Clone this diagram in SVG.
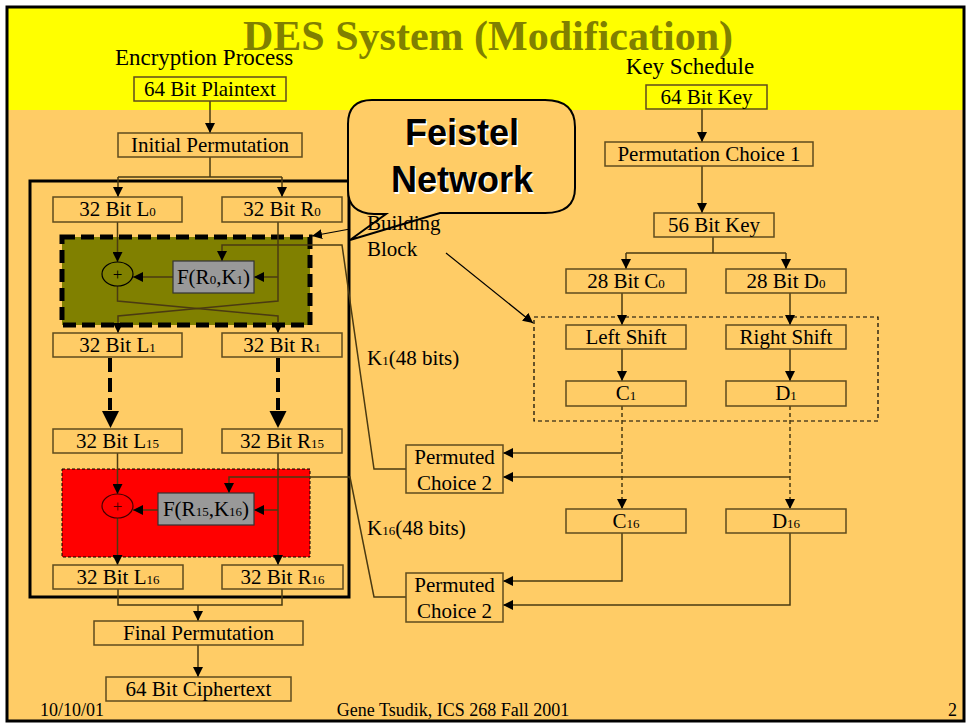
<svg xmlns="http://www.w3.org/2000/svg" width="968" height="725" viewBox="0 0 968 725">
<defs>
<marker id="ah" markerUnits="userSpaceOnUse" markerWidth="11" markerHeight="10" refX="10" refY="5" orient="auto"><path d="M0,0 L10,5 L0,10 z" fill="#000"/></marker>
<style>
.t{font-family:"Liberation Serif","Times New Roman",serif;font-size:21px;fill:#000;text-anchor:middle}
.s{font-size:13px}
.box{fill:#FFCC66;stroke:#5f4b1e;stroke-width:1.5}
.c{fill:none;stroke:#4a3a12;stroke-width:1.5}
.a{marker-end:url(#ah)}
.d{stroke-dasharray:4 3}
</style>
</defs>
<rect x="7" y="7" width="957" height="714" fill="#FFCC66"/>
<rect x="7" y="7" width="957" height="103" fill="#FFFF00"/>
<rect x="7" y="7" width="957" height="714" fill="none" stroke="#000" stroke-width="3"/>
<text x="488" y="50" style="font-family:'Liberation Serif','Times New Roman',serif;font-size:42px;font-weight:bold;fill:#808000;text-anchor:middle">DES System (Modification)</text>
<text x="204" y="65" class="t" style="font-size:23px">Encryption Process</text>
<text x="690" y="74" class="t" style="font-size:23px">Key Schedule</text>

<g id="feistel-frame"><rect x="30" y="181" width="319" height="416" fill="none" stroke="#000" stroke-width="3"/></g>
<g id="block1"><rect x="62" y="237" width="248" height="88" fill="#808000" stroke="#000" stroke-width="5" stroke-dasharray="13 6"/></g>
<g id="block16"><rect x="62" y="469" width="248" height="88" fill="#FF0000" stroke="#000" stroke-width="1" stroke-dasharray="3 2"/></g>
<g id="keybox"><rect x="534" y="317" width="344" height="104" fill="none" stroke="#000" stroke-width="1.2" stroke-dasharray="4 3"/></g>

<g id="callout">
<path d="M372,100 H545 Q575,100 575,127 V188 Q575,213 545,213 H440 L350,240 L386,214 H374 Q348,213 348,190 V124 Q348,100 372,100 Z" fill="#FFCC66" stroke="#000" stroke-width="2"/>
<text x="463.5" y="146.5" style="font-family:'Liberation Sans',Arial,sans-serif;font-size:36px;font-weight:bold;fill:#fff;text-anchor:middle">Feistel</text>
<text x="463.5" y="193.5" style="font-family:'Liberation Sans',Arial,sans-serif;font-size:36px;font-weight:bold;fill:#fff;text-anchor:middle">Network</text>
<text x="462" y="145" style="font-family:'Liberation Sans',Arial,sans-serif;font-size:36px;font-weight:bold;fill:#000;text-anchor:middle">Feistel</text>
<text x="462" y="192" style="font-family:'Liberation Sans',Arial,sans-serif;font-size:36px;font-weight:bold;fill:#000;text-anchor:middle">Network</text>
</g>
<g id="building-block-label"><text x="367" y="230" class="t" style="text-anchor:start">Building</text><text x="367" y="256" class="t" style="text-anchor:start">Block</text></g>
<g id="k1-label"><text x="367" y="365" class="t" style="text-anchor:start">K<tspan class="s">1</tspan>(48 bits)</text></g>
<g id="k16-label"><text x="367" y="535" class="t" style="text-anchor:start">K<tspan class="s">16</tspan>(48 bits)</text></g>

<g id="connectors">
<path class="c a" d="M210,101 V133"/>
<path class="c" d="M210,157 V177 M118,177 H282"/>
<path class="c a" d="M118,177 V197"/>
<path class="c a" d="M282,177 V197"/>
<path class="c a" d="M117.5,222 V262"/>
<path class="c a" d="M278,222 V301 L118,316 V333"/>
<path class="c a" d="M117.5,286 V301 L278,316 V333"/>
<path class="c a" d="M278,277 H254"/>
<path class="c a" d="M173,277 H133"/>
<path class="c a" d="M406,469 H374 L342,245 H222 V261"/>
<path d="M110,358 V410" stroke="#000" stroke-width="4" stroke-dasharray="14 6" fill="none"/>
<polygon points="102,411 119,411 110.5,428" fill="#000"/>
<path d="M278,358 V410" stroke="#000" stroke-width="4" stroke-dasharray="14 6" fill="none"/>
<polygon points="269.5,411 286.5,411 278,428" fill="#000"/>
<path class="c a" d="M117.5,453 V494"/>
<path class="c a" d="M117.5,518 V565"/>
<path class="c a" d="M278,453 V565"/>
<path class="c a" d="M278,510 H254"/>
<path class="c a" d="M158,510 H133"/>
<path class="c a" d="M406,597 H374 L350,477 H229 V493"/>
<path class="c" d="M118,589 V605 H282 V589"/>
<path class="c a" d="M198,605 V621"/>
<path class="c a" d="M198,645 V677"/>
<path class="c a" d="M350,229 L312,236" style="stroke:#000;stroke-width:1.2"/>
<path class="c a" d="M446,253 L533,323" style="stroke:#000;stroke-width:1.2"/>
<path class="c a" d="M702,109 V142"/>
<path class="c a" d="M702,166 V213"/>
<path class="c" d="M713,237 V253 M626,253 H786"/>
<path class="c a" d="M626,253 V269"/>
<path class="c a" d="M786,253 V269"/>
<path class="c a" d="M622,293 V325"/>
<path class="c a" d="M790,293 V325"/>
<path class="c a" d="M622,349 V381"/>
<path class="c a" d="M790,349 V381"/>
<path class="c a d" d="M622,406 V509"/>
<path class="c a d" d="M790,406 V509"/>
<path class="c a" d="M622,453 H503"/>
<path class="c a" d="M790,477 H503"/>
<path class="c a" d="M622,533 V581 H503"/>
<path class="c a" d="M790,533 V605 H503"/>
</g>

<g id="plaintext"><rect x="134" y="77" width="152" height="24" class="box" style="fill:#FFFF00"/><text x="210" y="96" class="t">64 Bit Plaintext</text></g>
<g id="initial-permutation"><rect x="118" y="133" width="184" height="24" class="box"/><text x="210" y="152" class="t">Initial Permutation</text></g>
<g id="L0"><rect x="53" y="197" width="129" height="25" class="box"/><text x="117.5" y="216" class="t">32 Bit L<tspan class="s">0</tspan></text></g>
<g id="R0"><rect x="222" y="197" width="120" height="25" class="box"/><text x="282" y="216" class="t">32 Bit R<tspan class="s">0</tspan></text></g>
<g id="xor1"><ellipse cx="117.5" cy="274" rx="15.5" ry="12" fill="none" stroke="#000" stroke-width="1.2"/><text x="117.5" y="280" class="t" style="font-size:17px">+</text></g>
<g id="F1"><rect x="173" y="261" width="81" height="32" fill="#999999" stroke="#333" stroke-width="1.2"/><text x="213.5" y="284" class="t">F(R<tspan class="s">0</tspan>,K<tspan class="s">1</tspan>)</text></g>
<g id="L1"><rect x="53" y="333" width="129" height="24" class="box"/><text x="117.5" y="352" class="t">32 Bit L<tspan class="s">1</tspan></text></g>
<g id="R1"><rect x="222" y="333" width="120" height="24" class="box"/><text x="282" y="352" class="t">32 Bit R<tspan class="s">1</tspan></text></g>
<g id="L15"><rect x="53" y="429" width="129" height="24" class="box"/><text x="117.5" y="448" class="t">32 Bit L<tspan class="s">15</tspan></text></g>
<g id="R15"><rect x="222" y="429" width="120" height="24" class="box"/><text x="282" y="448" class="t">32 Bit R<tspan class="s">15</tspan></text></g>
<g id="xor16"><ellipse cx="117.5" cy="506" rx="15.5" ry="12" fill="none" stroke="#400" stroke-width="1.2"/><text x="117.5" y="512" class="t" style="font-size:17px;fill:#400">+</text></g>
<g id="F16"><rect x="158" y="493" width="96" height="32" fill="#999999" stroke="#333" stroke-width="1.2"/><text x="206" y="516" class="t">F(R<tspan class="s">15</tspan>,K<tspan class="s">16</tspan>)</text></g>
<g id="L16"><rect x="53" y="565" width="130" height="24" class="box"/><text x="118" y="584" class="t">32 Bit L<tspan class="s">16</tspan></text></g>
<g id="R16"><rect x="222" y="565" width="121" height="24" class="box"/><text x="282.5" y="584" class="t">32 Bit R<tspan class="s">16</tspan></text></g>
<g id="final-permutation"><rect x="94" y="621" width="209" height="24" class="box"/><text x="198.5" y="640" class="t">Final Permutation</text></g>
<g id="ciphertext"><rect x="106" y="677" width="185" height="24" class="box"/><text x="198.5" y="696" class="t">64 Bit Ciphertext</text></g>

<g id="key64"><rect x="646" y="85" width="121" height="24" class="box" style="fill:#FFFF00"/><text x="706.5" y="104" class="t">64 Bit Key</text></g>
<g id="pc1"><rect x="605" y="142" width="208" height="24" class="box"/><text x="709" y="161" class="t">Permutation Choice 1</text></g>
<g id="key56"><rect x="654" y="213" width="120" height="24" class="box"/><text x="714" y="232" class="t">56 Bit Key</text></g>
<g id="C0"><rect x="566" y="269" width="120" height="24" class="box"/><text x="626" y="288" class="t">28 Bit C<tspan class="s">0</tspan></text></g>
<g id="D0"><rect x="726" y="269" width="120" height="24" class="box"/><text x="786" y="288" class="t">28 Bit D<tspan class="s">0</tspan></text></g>
<g id="left-shift"><rect x="566" y="325" width="120" height="24" class="box"/><text x="626" y="344" class="t">Left Shift</text></g>
<g id="right-shift"><rect x="726" y="325" width="120" height="24" class="box"/><text x="786" y="344" class="t">Right Shift</text></g>
<g id="C1"><rect x="566" y="381" width="120" height="25" class="box"/><text x="626" y="400" class="t">C<tspan class="s">1</tspan></text></g>
<g id="D1"><rect x="726" y="381" width="120" height="25" class="box"/><text x="786" y="400" class="t">D<tspan class="s">1</tspan></text></g>
<g id="C16"><rect x="566" y="509" width="120" height="24" class="box"/><text x="626" y="528" class="t">C<tspan class="s">16</tspan></text></g>
<g id="D16"><rect x="726" y="509" width="120" height="24" class="box"/><text x="786" y="528" class="t">D<tspan class="s">16</tspan></text></g>
<g id="pc2-1"><rect x="406" y="445" width="97" height="48" class="box"/><text x="454.5" y="464" class="t">Permuted</text><text x="454.5" y="490" class="t">Choice 2</text></g>
<g id="pc2-16"><rect x="406" y="573" width="97" height="49" class="box"/><text x="454.5" y="592" class="t">Permuted</text><text x="454.5" y="618" class="t">Choice 2</text></g>

<g id="footer">
<text x="40" y="716" class="t" style="font-size:18px;text-anchor:start">10/10/01</text>
<text x="453" y="716" class="t" style="font-size:18px">Gene Tsudik, ICS 268 Fall 2001</text>
<text x="957" y="716" class="t" style="font-size:18px;text-anchor:end">2</text>
</g>
</svg>
